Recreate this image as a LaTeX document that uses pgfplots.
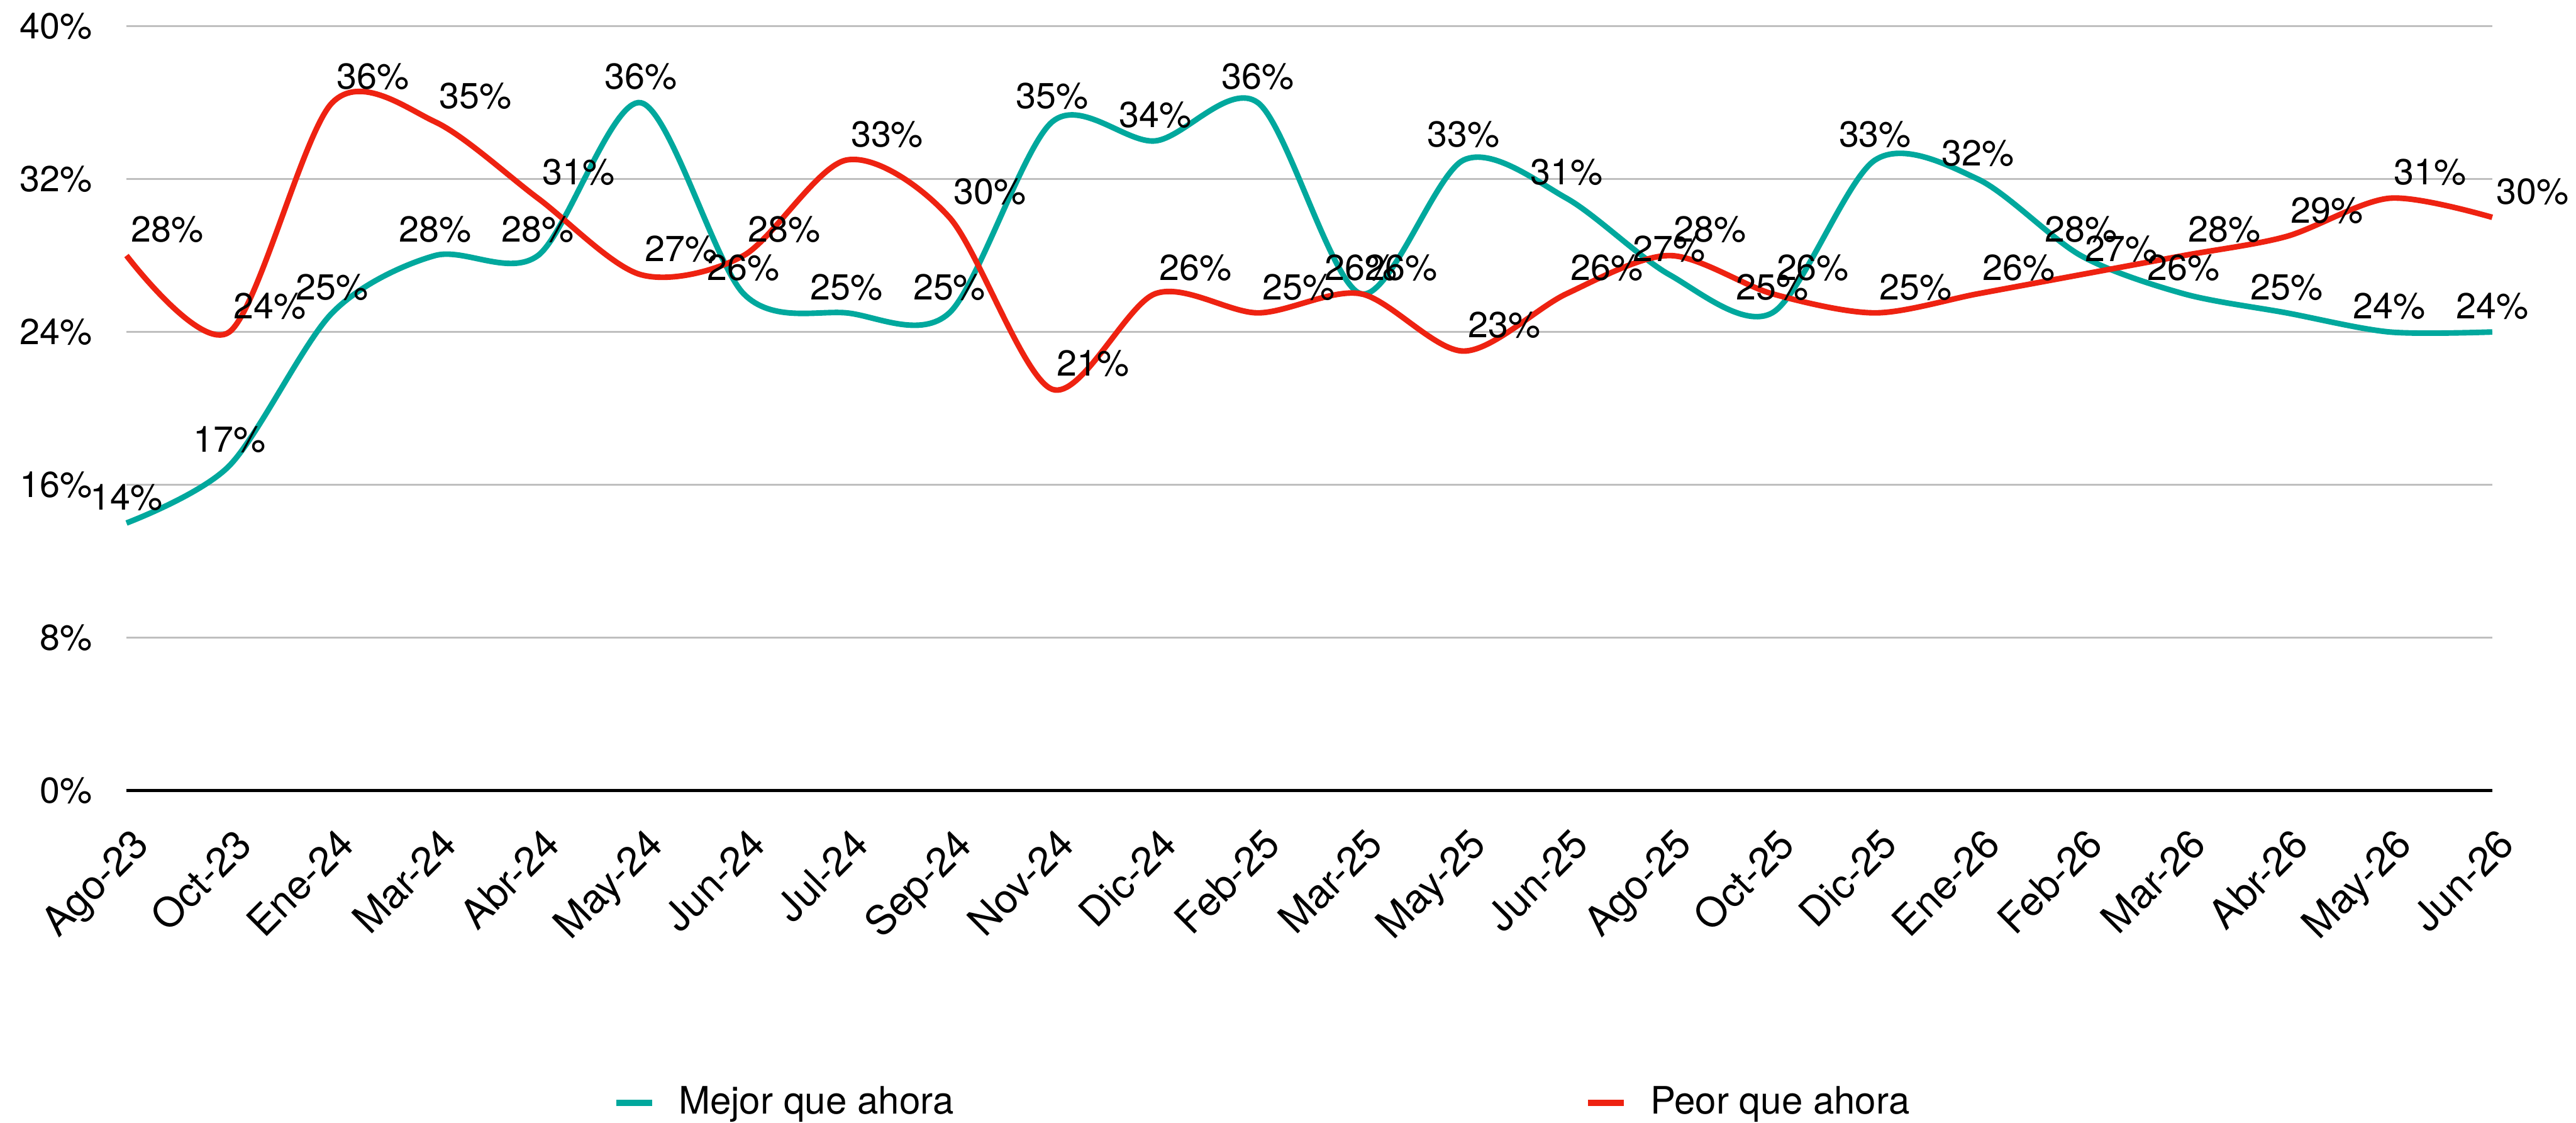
\documentclass[border=0pt]{standalone}
\usepackage{fontspec}
\setmainfont{TeX Gyre Heros}
\usepackage{pgfplots}
\pgfplotsset{compat=1.18}
\definecolor{tealc}{RGB}{0,168,157}
\definecolor{redc}{RGB}{238,34,17}
\definecolor{gridc}{RGB}{191,191,191}
\begin{document}
\begin{tikzpicture}
\useasboundingbox (-38.5pt,-101pt) rectangle (745.5pt,240.5pt);
\begin{axis}[
 at={(0pt,0pt)}, anchor=south west,
 scale only axis, width=720pt, height=232.5pt,
 xmin=0, xmax=23, ymin=0, ymax=40,
 axis x line*=bottom, axis y line*=left,
 y axis line style={draw=none},
 x axis line style={black, line width=0.9pt},
 xtick={0,...,23},
 xticklabels={Ago-23,Oct-23,Ene-24,Mar-24,Abr-24,May-24,Jun-24,Jul-24,Sep-24,Nov-24,Dic-24,Feb-25,Mar-25,May-25,Jun-25,Ago-25,Oct-25,Dic-25,Ene-26,Feb-26,Mar-26,Abr-26,May-26,Jun-26},
 ytick={0,8,...,40},
 yticklabel={\pgfmathprintnumber{\tick}\%},
 /pgf/number format/assume math mode=true,
 major tick length=0pt,
 ymajorgrids, grid style={gridc, line width=0.5pt},
 yticklabel style={font=\fontsize{11}{13}\selectfont, xshift=-7pt},
 xticklabel style={font=\fontsize{12.3}{14}\selectfont, xshift=1pt, yshift=-10.5pt, rotate=45, anchor=north east, inner sep=0pt},
 clip=false,
 legend style={draw=none, fill=none, at={(0.4811,-0.4086)}, anchor=center, legend columns=2,
   font=\fontsize{11.5}{13}\selectfont,
   /tikz/every odd column/.append style={column sep=5pt},
   /tikz/every even column/.append style={column sep=190pt}},
 legend image code/.code={\draw[#1, line width=2pt] (0pt,0pt) -- (11pt,0pt);},
 nodes near coords={\pgfmathprintnumber{\pgfplotspointmeta}\%},
]
\addplot[tealc, line width=1.7pt, smooth,
  every node near coord/.append style={black, font=\fontsize{11}{13}\selectfont, anchor=south, inner sep=0pt, yshift=3pt}]
 coordinates {(0,14) (1,17) (2,25) (3,28) (4,28) (5,36) (6,26) (7,25) (8,25) (9,35) (10,34) (11,36) (12,26) (13,33) (14,31) (15,27) (16,25) (17,33) (18,32) (19,28) (20,26) (21,25) (22,24) (23,24)};
\addlegendentry{Mejor que ahora}
\addplot[redc, line width=1.7pt, smooth,
  every node near coord/.append style={black, font=\fontsize{11}{13}\selectfont, anchor=south west, inner sep=0pt, yshift=3pt, xshift=0.5pt}]
 coordinates {(0,28) (1,24) (2,36) (3,35) (4,31) (5,27) (6,28) (7,33) (8,30) (9,21) (10,26) (11,25) (12,26) (13,23) (14,26) (15,28) (16,26) (17,25) (18,26) (19,27) (20,28) (21,29) (22,31) (23,30)};
\addlegendentry{Peor que ahora}
\end{axis}
\end{tikzpicture}
\end{document}
